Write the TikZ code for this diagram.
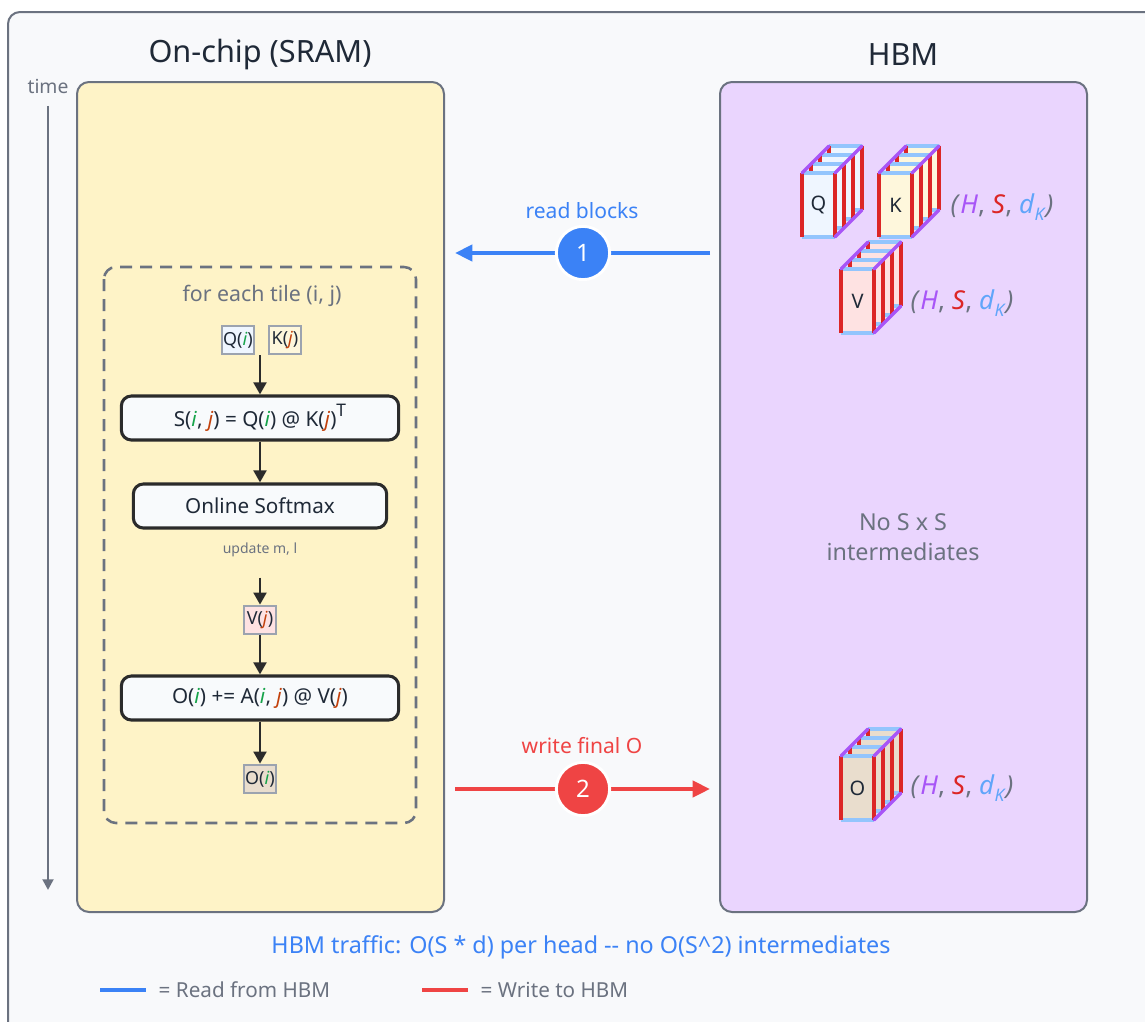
\documentclass[tikz,border=0pt]{standalone}
\usepackage{fontspec}
\setmainfont{Noto Sans}
\usetikzlibrary{arrows.meta,positioning}

\definecolor{pagebg}{HTML}{F8F9FB}
\definecolor{framegray}{HTML}{6B7280}
\definecolor{sramfill}{HTML}{FEF3C7}
\definecolor{hbmfill}{HTML}{EAD5FE}
\definecolor{ink}{HTML}{1F2937}
\definecolor{boxfill}{HTML}{F8FAFC}
\definecolor{boxline}{HTML}{2B2B2B}
\definecolor{tilegray}{HTML}{9CA3AF}
\definecolor{qfill}{HTML}{EFF6FF}
\definecolor{kfill}{HTML}{FEF7DC}
\definecolor{vfill}{HTML}{FEE2E2}
\definecolor{ofill}{HTML}{E9DDCD}
\definecolor{readblue}{HTML}{3B82F6}
\definecolor{writered}{HTML}{EF4444}
\definecolor{igreen}{HTML}{16A34A}
\definecolor{jorange}{HTML}{C2410C}
\definecolor{hpurple}{HTML}{A855F7}
\definecolor{sred}{HTML}{DC2626}
\definecolor{dblue}{HTML}{60A5FA}
\definecolor{edgeblue}{HTML}{93C5FD}

% coloured tile indices
\newcommand\idx{\textcolor{igreen}{\textit{i}}}
\newcommand\jdx{\textcolor{jorange}{\textit{j}}}
% tensor shape label
\newcommand\shapelabel{\textcolor{framegray}{\textit{(}}\textcolor{hpurple}{\textit{H}}\textcolor{framegray}{,}
  \textcolor{sred}{\textit{S}}\textcolor{framegray}{,}
  \textcolor{dblue}{\textit{d}\raisebox{-0.25em}{\fontsize{13}{14}\selectfont\textit{K}}}\textcolor{framegray}{\textit{)}}}

% stack of slices: #1,#2 = top-left of front slice, #3 = fill, #4 = name
\newcommand\tensorstack[4]{%
  \foreach \k in {3,2,1,0}{
    \fill[#3] ({#1+9*\k},{#2-9*\k}) rectangle ++(33,64);
    \draw[slicetb] ({#1+9*\k},{#2-9*\k}) -- ++(33,0) ({#1+9*\k},{#2-9*\k+64}) -- ++(33,0);
    \draw[slicelr] ({#1+9*\k},{#2-9*\k}) -- ++(0,64) ({#1+9*\k+33},{#2-9*\k}) -- ++(0,64);
  }
  \draw[slicediag] (#1,#2) -- ++(27,-27) ({#1+33},#2) -- ++(27,-27) ({#1+33},{#2+64}) -- ++(27,-27);
  \node[text=ink, font=\fontsize{15}{17}\selectfont] (#4) at ({#1+16.5},{#2+32}) {#4};
}

\begin{document}
\begin{tikzpicture}[x=0.75pt,y=-0.75pt,
  panel/.style={draw=framegray, line width=1.5pt, rounded corners=9pt},
  tile/.style={draw=tilegray, line width=2pt, minimum width=24pt, minimum height=21pt,
    inner sep=0.5pt, text=ink, font=\fontsize{13.5}{15}\selectfont},
  stepbox/.style={draw=boxline, fill=boxfill, line width=2.3pt, rounded corners=7.5pt,
    minimum height=33pt, text=ink, font=\fontsize{15.5}{18}\selectfont},
  flow/.style={draw=boxline, line width=2.1pt, -{Triangle[length=9pt,width=9.5pt]}},
  badge/.style={circle, fill=#1, draw=white, line width=2.2pt, minimum size=40pt,
    inner sep=0pt, text=white, font=\fontsize{18}{20}\selectfont\bfseries},
  slicelr/.style={draw=sred, line width=2.7pt},
  slicetb/.style={draw=edgeblue, line width=2.6pt},
  slicediag/.style={draw=hpurple, line width=2.5pt, line cap=round},
  note/.style={text=framegray, font=\fontsize{15.5}{18}\selectfont}]

\useasboundingbox (0,0) rectangle (1145,1021);
\fill[white] (0,0) rectangle (1145,1021);
\draw[panel, fill=pagebg] (8,12) rectangle (1175,1050);

% panels
\draw[panel, fill=sramfill] (77,82) rectangle (444,912);
\draw[panel, fill=hbmfill] (720,82) rectangle (1087,912);
\node[text=ink, font=\fontsize{23}{27}\selectfont] (sramtitle) at (260,55) {On-chip (SRAM)};
\node[text=ink, font=\fontsize{23}{27}\selectfont] (hbmtitle) at (903,55) {HBM};

% time axis
\node[note, font=\fontsize{14.5}{17}\selectfont] (time) at (48,86) {time};
\coordinate (tend) at (48,890);
\draw[framegray, line width=2.2pt, -{Triangle[length=8pt,width=8pt]}] (time.south) ++(0,8) -- (tend);

% tile loop
\draw[framegray, line width=1.9pt, dashed, dash pattern=on 9pt off 6pt, rounded corners=9pt]
  (104,267) rectangle (416,823);
\node[note, font=\fontsize{16}{18}\selectfont] (loop) at (262,296) {for each tile (i, j)};
\node[tile, fill=qfill] (qi) at (238,340) {Q(\idx)};
\node[tile, fill=kfill] (kj) at (285,340) {K(\jdx)};
\node[stepbox, minimum width=208pt] (sbox) at (260,418)
  {S(\idx, \jdx) = Q(\idx) @ K(\jdx)\raisebox{0.5em}{\fontsize{13}{14}\selectfont T}};
\node[stepbox, minimum width=190pt] (smax) at (260,506) {Online Softmax};
\node[note, font=\fontsize{10.5}{12}\selectfont] (upd) at (260,550) {update m, l};
\node[tile, fill=vfill] (vj) at (260,620) {V(\jdx)};
\node[stepbox, minimum width=208pt] (obox) at (260,698) {O(\idx) += A(\idx, \jdx) @ V(\jdx)};
\node[tile, fill=ofill] (oi) at (260,779) {O(\idx)};

\draw[flow] (sbox.north |- qi.south) -- (sbox.north);
\draw[flow] (sbox) -- (smax);
\draw[flow] ([yshift=-12]upd.south) -- (vj);
\draw[flow] (vj) -- (obox);
\draw[flow] (obox) -- (oi);

% tensors in HBM
\tensorstack{802}{173}{qfill}{Q}
\tensorstack{879}{173}{kfill}{K}
\tensorstack{841}{269}{vfill}{V}
\tensorstack{841}{756}{ofill}{O}
\node[anchor=west, font=\fontsize{19.5}{22}\selectfont] (qkshape) at (946,207) {\shapelabel};
\node[anchor=west, font=\fontsize{19.5}{22}\selectfont] (vshape) at (906,303) {\shapelabel};
\node[anchor=west, font=\fontsize{19.5}{22}\selectfont] (oshape) at (906,788) {\shapelabel};
\node[text=framegray, align=center, font=\fontsize{17.5}{23}\selectfont] (nosxs) at (903,537)
  {No S x S\\intermediates};

% transfers
\coordinate (rdfrom) at (710,253);
\coordinate (rdto) at (455,253);
\coordinate (wrfrom) at (455,789);
\coordinate (wrto) at (710,789);
\draw[readblue, line width=3pt, -{Triangle[length=13pt,width=12pt]}] (rdfrom) -- (rdto);
\draw[writered, line width=3pt, -{Triangle[length=13pt,width=12pt]}] (wrfrom) -- (wrto);
\node[badge=readblue] (one) at (583,253) {1};
\node[badge=writered] (two) at (583,789) {2};
\node[text=readblue, font=\fontsize{15.8}{18}\selectfont] (rdlabel) at (582,211) {read blocks};
\node[text=writered, font=\fontsize{15.8}{18}\selectfont] (wrlabel) at (582,746) {write final O};

% footer and legend
\node[text=readblue, font=\fontsize{17.5}{20}\selectfont] (traffic) at (581,947)
  {HBM traffic: O(S * d) per head {-}{-} no O(S\textasciicircum2) intermediates};
\coordinate (lga) at (100,990);
\coordinate (lgb) at (146,990);
\coordinate (lgc) at (422,990);
\coordinate (lgd) at (468,990);
\draw[readblue, line width=3.5pt] (lga) -- (lgb);
\draw[writered, line width=3.5pt] (lgc) -- (lgd);
\node[note, anchor=west] (lgread) at (154,990) {= Read from HBM};
\node[note, anchor=west] (lgwrite) at (476,990) {= Write to HBM};
\end{tikzpicture}
\end{document}
